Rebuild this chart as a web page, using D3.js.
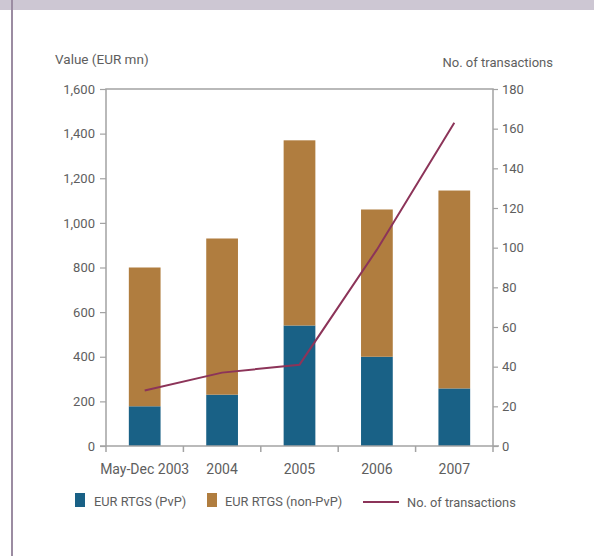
<!DOCTYPE html>
<html><head><meta charset="utf-8">
<script src="https://cdn.jsdelivr.net/npm/d3@7"></script>
<style>body{margin:0;background:#fff}svg{display:block;font-family:Roboto,"Noto Sans",sans-serif}</style>
</head><body><svg id="c" width="594" height="556"></svg>
<script>
const categories = ["May-Dec 2003","2004","2005","2006","2007"];
const pvp = [178, 230, 540, 400, 258];
const nonPvp = [622, 700, 830, 660, 887];
const transactions = [28, 37, 41, 99, 163];
const leftTicks = [0,200,400,600,800,1000,1200,1400,1600];
const rightTicks = [0,20,40,60,80,100,120,140,160,180];
const legendLabels = ["EUR RTGS (PvP)","EUR RTGS (non-PvP)","No. of transactions"];

const svg = d3.select("#c");
const colBlue = "#196186", colBrown = "#b07d3f", colLine = "#8c3459", axisCol = "#a3a3a3", textCol = "#5e5e5e";
const L = 106, R = 493, T = 89, B = 446;

// top band & left border
svg.append("rect").attr("x",0).attr("y",0).attr("width",594).attr("height",10).attr("fill","#cdc7d3");
svg.append("rect").attr("x",11).attr("y",0).attr("width",2).attr("height",556).attr("fill","#9b8ca2");

const x = d3.scaleBand().domain(categories).range([L,R]).paddingInner(0.59).paddingOuter(0.295);
const xb = d3.scaleBand().domain(categories).range([L,R]);
const yL = d3.scaleLinear().domain([0,1600]).range([B,T]);
const yR = d3.scaleLinear().domain([0,180]).range([B,T]);

const stackData = categories.map((c,i)=>({cat:c, pvp:pvp[i], non:nonPvp[i]}));
const series = d3.stack().keys(["pvp","non"])(stackData);
const cols = [colBlue, colBrown];
series.forEach((s,k)=>{
  svg.append("g").selectAll("rect").data(s).join("rect")
    .attr("x",d=>x(d.data.cat)).attr("width",x.bandwidth())
    .attr("y",d=>yL(d[1])).attr("height",d=>yL(d[0])-yL(d[1]))
    .attr("fill",cols[k]);
});

// frame
svg.append("path").attr("d",`M${L},${B}V${T}H${R}V${B}`).attr("fill","none").attr("stroke",axisCol).attr("stroke-width",1.5);

// left axis
const gl = svg.append("g").attr("transform",`translate(${L},0)`)
  .call(d3.axisLeft(yL).tickValues(leftTicks).tickFormat(d3.format(",")).tickSize(6).tickPadding(5));
// right axis
const gr = svg.append("g").attr("transform",`translate(${R},0)`)
  .call(d3.axisRight(yR).tickValues(rightTicks).tickSize(5).tickPadding(4));
// bottom axis: ticks at band boundaries
const bounds = categories.map(c=>xb(c)).concat([R]);
const gb = svg.append("g").attr("transform",`translate(0,${B})`);
gb.append("line").attr("x1",L-6).attr("x2",R+6).attr("stroke",axisCol).attr("stroke-width",1.5);
gb.selectAll("line.t").data(bounds).join("line").attr("class","t")
  .attr("x1",d=>d).attr("x2",d=>d).attr("y1",0).attr("y2",6).attr("stroke",axisCol).attr("stroke-width",1.5);
gb.selectAll("text").data(categories).join("text")
  .attr("x",d=>xb(d)+xb.bandwidth()/2).attr("y",28).attr("text-anchor","middle")
  .attr("fill",textCol).attr("font-size",14).text(d=>d);

[gl,gr].forEach(g=>{
  g.select(".domain").remove();
  g.selectAll(".tick line").attr("stroke",axisCol).attr("stroke-width",1.2);
  g.selectAll(".tick text").attr("fill",textCol).attr("font-size",13).attr("font-family","Roboto,sans-serif");
});

// line
const line = d3.line().x((d,i)=>xb(categories[i])+xb.bandwidth()/2).y(d=>yR(d));
svg.append("path").datum(transactions).attr("d",line).attr("fill","none").attr("stroke",colLine).attr("stroke-width",2);

// axis titles
svg.append("text").attr("x",55).attr("y",64).attr("fill",textCol).attr("font-size",13.5).text("Value (EUR mn)");
svg.append("text").attr("x",553).attr("y",67).attr("text-anchor","end").attr("fill",textCol).attr("font-size",13).text("No. of transactions");

// legend
const lg = svg.append("g");
lg.append("rect").attr("x",75).attr("y",493).attr("width",10).attr("height",14).attr("fill",colBlue);
lg.append("text").attr("x",94).attr("y",506).attr("fill",textCol).attr("font-size",12.8).text(legendLabels[0]);
lg.append("rect").attr("x",207).attr("y",493).attr("width",10).attr("height",14).attr("fill",colBrown);
lg.append("text").attr("x",225).attr("y",506).attr("fill",textCol).attr("font-size",12.8).text(legendLabels[1]);
lg.append("line").attr("x1",363).attr("x2",399).attr("y1",502).attr("y2",502).attr("stroke",colLine).attr("stroke-width",2);
lg.append("text").attr("x",407).attr("y",507).attr("fill",textCol).attr("font-size",12.8).text(legendLabels[2]);
</script></body></html>
